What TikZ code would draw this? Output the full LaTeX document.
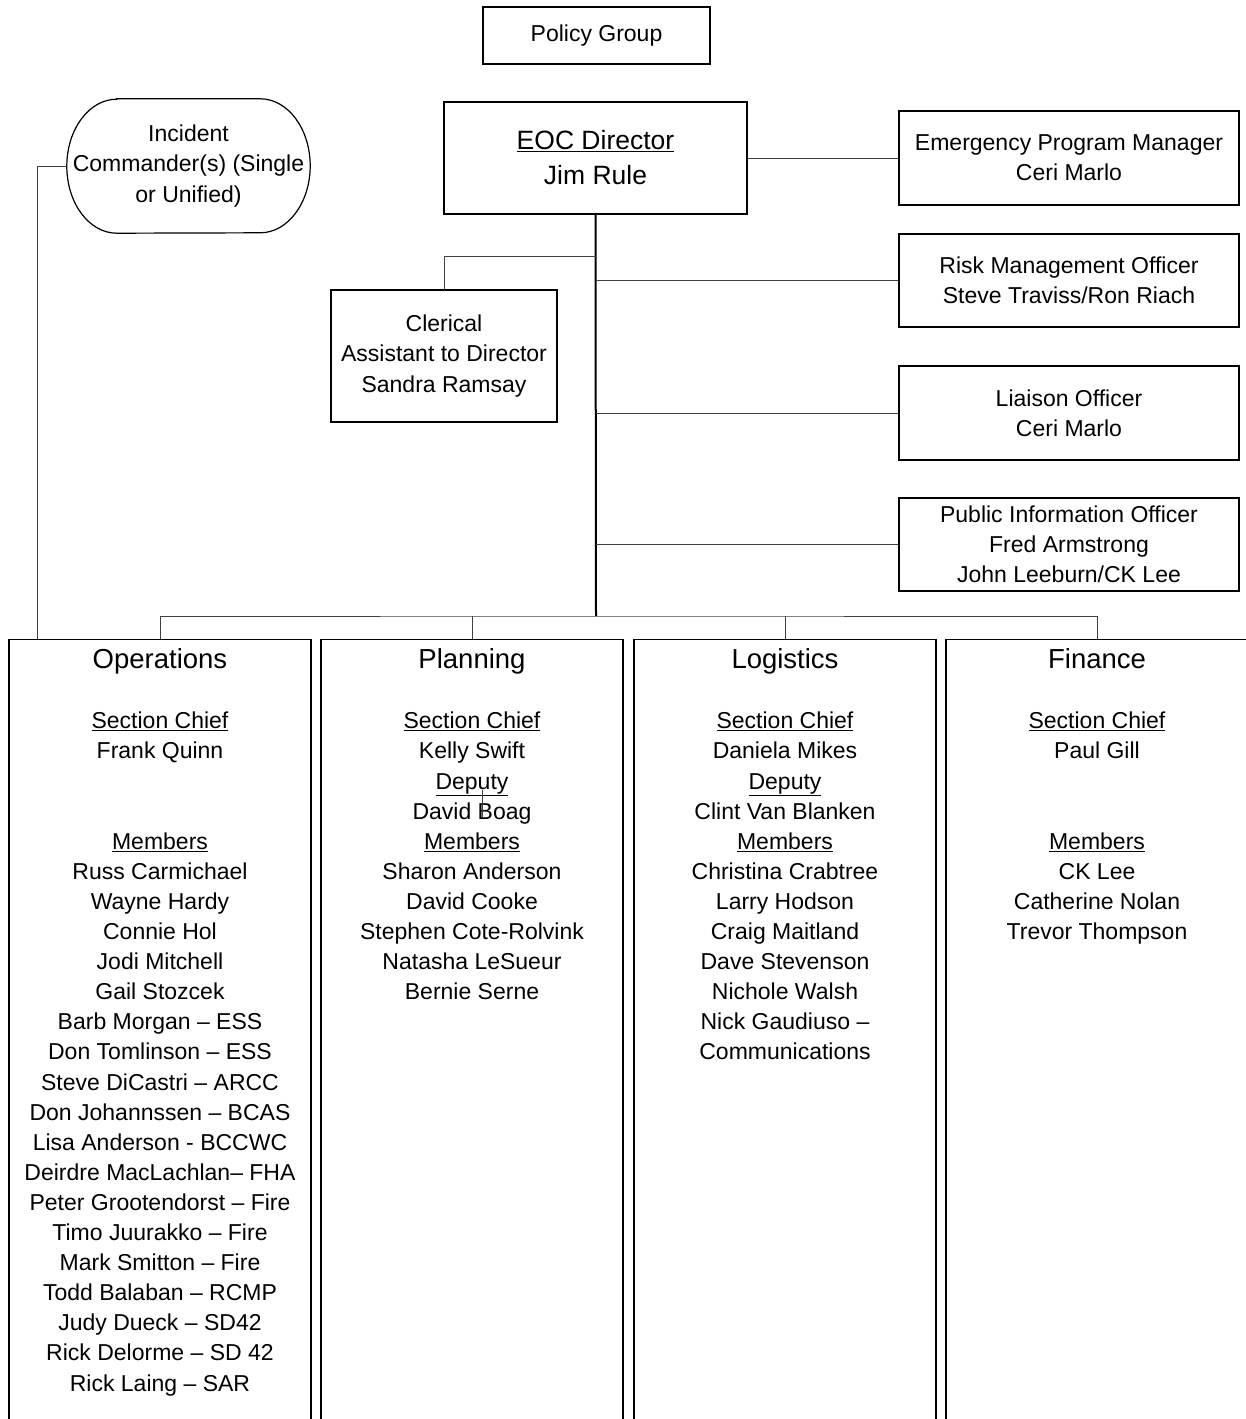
\documentclass[tikz,border=0pt]{standalone}
\usepackage{fontspec}
\setmainfont{Liberation Sans}
\usetikzlibrary{positioning,calc}

\tikzset{
  box/.style={draw, line width=1.2pt, align=center, inner sep=0pt},
  colbox/.style={draw, line width=1.2pt, minimum width=302pt, minimum height=900pt, anchor=north},
  link/.style={draw=black!75, line width=1pt},
  trunk/.style={draw, line width=2pt},
  body/.style={font=\fontsize{23}{30.1}\selectfont},
  big/.style={font=\fontsize{26.5}{35}\selectfont},
  coltitle/.style={font=\fontsize{27.5}{35}\selectfont, inner sep=0pt, anchor=base},
  coltext/.style={body, align=center, inner sep=0pt, anchor=north},
}

\begin{document}
\begin{tikzpicture}[x=1pt,y=-1pt]
\clip (0,0) rectangle (1246,1419);

% top of the tree
\node[box, body, minimum width=227pt, minimum height=57pt] (policy) at (596.5,35.5) {Policy Group};
\node[box, big, minimum width=303pt, minimum height=112pt] (director) at (595.5,158) {\underline{EOC Director}\\Jim Rule};
\node[body, align=center, inner sep=0pt, minimum width=243pt, minimum height=134pt] (ic) at (188.5,166) {Incident\\Commander(s) (Single\\or Unified)};
\draw[box] ([xshift=50pt]ic.north west) -- ([xshift=-50pt]ic.north east)
  arc[start angle=90, end angle=-90, x radius=50pt, y radius=67pt]
  -- ([xshift=50pt]ic.south west)
  arc[start angle=270, end angle=90, x radius=50pt, y radius=67pt] -- cycle;

% staff on the right
\node[box, body, minimum width=340pt, minimum height=94pt] (epm) at (1069,158) {Emergency Program Manager\\Ceri Marlo};
\node[box, body, minimum width=340pt, minimum height=93pt] (risk) at (1069,280.5) {Risk Management Officer\\Steve Traviss/Ron Riach};
\node[box, body, minimum width=340pt, minimum height=94pt] (liaison) at (1069,413) {Liaison Officer\\Ceri Marlo};
\node[box, body, minimum width=340pt, minimum height=93pt] (pio) at (1069,544.5) {Public Information Officer\\Fred Armstrong\\John Leeburn/CK Lee};
\node[box, body, minimum width=226pt, minimum height=132pt] (clerical) at (444,356) {Clerical\\Assistant to Director\\Sandra Ramsay};

\coordinate (cj) at (596,256);
\coordinate (bus) at (596,616);

\draw[trunk] (director.south) -- (bus);
\draw[link] (director.east) -- (epm.west);
\draw[link] (risk.west) -- (risk.west -| bus);
\draw[link] (liaison.west) -- (liaison.west -| bus);
\draw[link] (pio.west) -- (pio.west -| bus);
\draw[link] (clerical.north) |- (cj);

% sections
\node[colbox] (ops) at (160,639) {};
\node[colbox] (plan) at (472,639) {};
\node[colbox] (log) at (785,639) {};
\node[colbox] (fin) at (1097,639) {};

\draw[link] (ops.north) |- (bus) -| (fin.north);
\draw[link] (plan.north) -- (plan.north |- bus);
\draw[link] (log.north) -- (log.north |- bus);
\draw[link] (ic.west) -| ($(ops.north west)+(29,0)$);

\node[coltitle] (opst) at (160,668) {Operations};
\node[coltitle] (plant) at (472,668) {Planning};
\node[coltitle] (logt) at (785,668) {Logistics};
\node[coltitle] (fint) at (1097,668) {Finance};

\node[coltext] (opsb) at (160,712) {\underline{Section Chief}\\Frank Quinn\\~\\~\\\underline{Members}\\
  Russ Carmichael\\Wayne Hardy\\Connie Hol\\Jodi Mitchell\\Gail Stozcek\\
  Barb Morgan – ESS\\Don Tomlinson – ESS\\Steve DiCastri – ARCC\\Don Johannssen – BCAS\\
  Lisa Anderson - BCCWC\\Deirdre MacLachlan– FHA\\Peter Grootendorst – Fire\\
  Timo Juurakko – Fire\\Mark Smitton – Fire\\Todd Balaban – RCMP\\Judy Dueck – SD42\\
  Rick Delorme – SD 42\\Rick Laing – SAR};
\node[coltext] (planb) at (472,712) {\underline{Section Chief}\\Kelly Swift\\\underline{Deputy}\\David Boag\\\underline{Members}\\
  Sharon Anderson\\David Cooke\\Stephen Cote-Rolvink\\Natasha LeSueur\\Bernie Serne};
\node[coltext] (logb) at (785,712) {\underline{Section Chief}\\Daniela Mikes\\\underline{Deputy}\\Clint Van Blanken\\\underline{Members}\\
  Christina Crabtree\\Larry Hodson\\Craig Maitland\\Dave Stevenson\\Nichole Walsh\\
  Nick Gaudiuso –\\Communications};
\node[coltext] (finb) at (1097,712) {\underline{Section Chief}\\Paul Gill\\~\\~\\\underline{Members}\\
  CK Lee\\Catherine Nolan\\Trevor Thompson};

\draw[link] (482,790) -- (482,818);
\end{tikzpicture}
\end{document}
